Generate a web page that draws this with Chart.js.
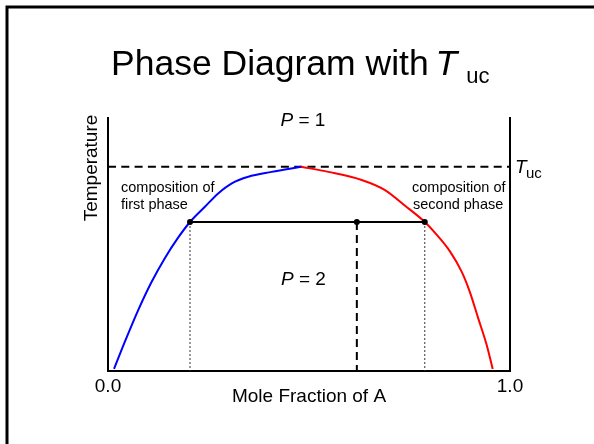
<!DOCTYPE html>
<html><head><meta charset="utf-8">
<script src="https://cdn.jsdelivr.net/npm/chart.js@4.4.0/dist/chart.umd.min.js"></script>
<style>html,body{margin:0;padding:0;background:#fff;} #wrap{width:594px;height:444px;position:relative;}</style>
</head><body><div id="wrap"><canvas id="c" width="594" height="444"></canvas></div>
<script>
// ---- data ----
const firstPhaseX  = [0.015, 0.0415, 0.0746, 0.108, 0.141, 0.174, 0.204, 0.241, 0.274, 0.308, 0.349, 0.407, 0.480];
const firstPhaseT  = [0.8, 11.4, 23.9, 35.1, 44.5, 52.6, 58.9, 64.9, 70.2, 74.2, 76.8, 78.7, 80.75];
const secondPhaseX = [0.480, 0.548, 0.631, 0.689, 0.739, 0.788, 0.818, 0.851, 0.880, 0.900, 0.921, 0.942, 0.957];
const secondPhaseT = [80.75, 78.7, 75.5, 71.5, 65.3, 58.9, 53.8, 47.2, 39.2, 31.3, 20.8, 10.3, 0.8];
const criticalT = 80.75;           // T_uc
const tieLineT = 58.9;
const tieLineX = [0.204, 0.619, 0.788]; // first phase, overall, second phase
const xTickValues = [0, 1];
const xTickLabels = ['0.0', '1.0'];
const xAxisTitle = 'Mole Fraction of A';
const yAxisTitle = 'Temperature';

const FONT = '"Liberation Sans", Arial, Helvetica, sans-serif';
const pts = (xs, ys) => xs.map((x, i) => ({x: x, y: ys[i]}));
const f = (size, style) => (style ? style + ' ' : '') + size + 'px ' + FONT;

const decor = {
  id: 'decor',
  beforeDraw(chart) {
    const ctx = chart.ctx;
    ctx.save();
    ctx.fillStyle = '#fff';
    ctx.fillRect(0, 0, chart.width, chart.height);
    ctx.strokeStyle = '#000';
    ctx.lineWidth = 3;
    ctx.strokeRect(7, 7, 800, 800);
    ctx.restore();
  },
  afterDraw(chart) {
    const ctx = chart.ctx;
    const ys = chart.scales.y;
    ctx.save();
    ctx.fillStyle = '#000';
    ctx.textBaseline = 'alphabetic';
    ctx.textAlign = 'left';
    // title
    let x = 111;
    ctx.font = f(35.5); ctx.fillText('Phase Diagram with ', x, 75);
    x += ctx.measureText('Phase Diagram with ').width - 3;
    ctx.font = f(35.5, 'italic'); ctx.fillText('T', x, 75);
    x += ctx.measureText('T').width + 9;
    ctx.font = f(22); ctx.fillText('uc', x, 83);
    // y axis title
    ctx.save();
    ctx.translate(91.7, 168);
    ctx.rotate(-Math.PI / 2);
    ctx.textAlign = 'center'; ctx.textBaseline = 'middle';
    ctx.font = f(19); ctx.fillText(yAxisTitle, 0, 0);
    ctx.restore();
    // P = 1 / P = 2
    const pLabel = (txt, px, py) => {
      ctx.font = f(19, 'italic'); ctx.fillText('P', px, py);
      const w = ctx.measureText('P').width;
      ctx.font = f(19); ctx.fillText(' = ' + txt, px + w, py);
    };
    pLabel('1', 280.5, 126);
    pLabel('2', 281, 285);
    // composition labels
    ctx.font = f(14.5);
    ctx.fillText('composition of', 121, 191.7);
    ctx.fillText('first phase', 121, 209.3);
    ctx.fillText('composition of', 412, 191.7);
    ctx.fillText('second phase', 413, 209.3);
    // T_uc label at the right
    const ty = ys.getPixelForValue(criticalT) + 6.5;
    ctx.font = f(19, 'italic'); ctx.fillText('T', 515, ty);
    ctx.font = f(15); ctx.fillText('uc', 526, ty + 5);
    ctx.restore();
  }
};

const black = '#000';
new Chart(document.getElementById('c'), {
  type: 'line',
  data: {
    datasets: [
      { data: tieLineX.map(v => ({x: v, y: tieLineT})), showLine: false, pointRadius: 3,
        pointBackgroundColor: black, pointBorderColor: black, pointBorderWidth: 0 },
      { data: pts(firstPhaseX, firstPhaseT), borderColor: '#0000ff', borderWidth: 2,
        pointRadius: 0, cubicInterpolationMode: 'monotone', fill: false },
      { data: pts(secondPhaseX, secondPhaseT), borderColor: '#ff0000', borderWidth: 2,
        pointRadius: 0, cubicInterpolationMode: 'monotone', fill: false },
      { data: [{x: tieLineX[0], y: tieLineT}, {x: tieLineX[2], y: tieLineT}], borderColor: black,
        borderWidth: 2, pointRadius: 0 },
      { data: [{x: 0, y: criticalT}, {x: 1, y: criticalT}], borderColor: black, borderWidth: 2,
        borderDash: [8, 5.3], pointRadius: 0 },
      { data: [{x: tieLineX[1], y: tieLineT}, {x: tieLineX[1], y: 0}], borderColor: black, borderWidth: 2,
        borderDash: [8, 5], pointRadius: 0 },
      { data: [{x: tieLineX[0], y: tieLineT}, {x: tieLineX[0], y: 0}], borderColor: '#333', borderWidth: 1,
        borderDash: [2, 2], pointRadius: 0 },
      { data: [{x: tieLineX[2], y: tieLineT}, {x: tieLineX[2], y: 0}], borderColor: '#333', borderWidth: 1,
        borderDash: [2, 2], pointRadius: 0 }
    ]
  },
  options: {
    responsive: false,
    devicePixelRatio: 1,
    animation: false,
    layout: { padding: { top: 118, left: 0, right: 0, bottom: 0 } },
    plugins: { legend: { display: false }, tooltip: { enabled: false }, title: { display: false } },
    scales: {
      x: {
        type: 'linear', min: 0, max: 1,
        grid: { display: false, drawTicks: false },
        border: { display: true, color: black, width: 2 },
        afterBuildTicks: s => { s.ticks = xTickValues.map(v => ({value: v})); },
        ticks: { color: black, font: { family: FONT, size: 19 }, padding: 4.5, maxRotation: 0, autoSkip: false,
                 callback: (v, i) => xTickLabels[i] },
        title: { display: true, text: xAxisTitle, color: black, font: { family: FONT, size: 19 },
                 padding: { top: 0, bottom: 36 } },
        afterFit: s => { s.height = 73; }
      },
      y: {
        type: 'linear', position: 'left', min: 0, max: 100,
        grid: { display: false, drawTicks: false },
        ticks: { display: false },
        border: { display: true, color: black, width: 2 },
        afterFit: s => { s.width = 108; }
      },
      y2: {
        type: 'linear', position: 'right', min: 0, max: 100,
        grid: { display: false, drawTicks: false },
        ticks: { display: false },
        border: { display: true, color: black, width: 2 },
        afterFit: s => { s.width = 84; }
      }
    }
  },
  plugins: [decor]
});
</script>
</body></html>
